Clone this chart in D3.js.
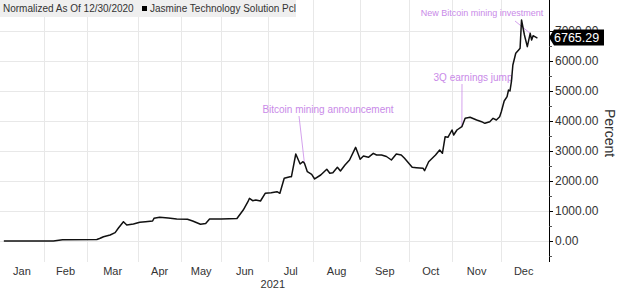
<!DOCTYPE html>
<html>
<head>
<meta charset="utf-8">
<script src="https://cdn.jsdelivr.net/npm/d3@7"></script>
<style>
body{margin:0;background:#fff;overflow:hidden}
text{font-family:"Liberation Sans",Arial,sans-serif}
</style>
</head>
<body>
<div id="main"></div>
<script>
// Jasmine Technology Solution Pcl, normalized to 12/30/2020 (percent)
var dates=['2021-01-04','2021-01-20','2021-02-07','2021-02-13','2021-03-07','2021-03-09','2021-03-11','2021-03-15','2021-03-18','2021-03-20',
  '2021-03-23','2021-03-25','2021-03-29','2021-04-02','2021-04-06','2021-04-11','2021-04-12','2021-04-16','2021-04-22','2021-04-28',
  '2021-05-06','2021-05-10','2021-05-16','2021-05-20','2021-05-23','2021-06-01','2021-06-11','2021-06-15','2021-06-18','2021-06-19',
  '2021-06-21','2021-06-23','2021-06-26','2021-06-29','2021-07-03','2021-07-07','2021-07-09','2021-07-12','2021-07-16','2021-07-17',
  '2021-07-20','2021-07-23','2021-07-25','2021-07-26','2021-07-28','2021-07-31','2021-08-02','2021-08-06','2021-08-10','2021-08-12',
  '2021-08-14','2021-08-17','2021-08-19','2021-08-22','2021-08-25','2021-08-29','2021-09-01','2021-09-03','2021-09-06','2021-09-09',
  '2021-09-11','2021-09-14','2021-09-17','2021-09-20','2021-09-23','2021-09-26','2021-09-28','2021-10-03','2021-10-06','2021-10-11',
  '2021-10-12','2021-10-15','2021-10-20','2021-10-23','2021-10-25','2021-10-27','2021-10-29','2021-11-01','2021-11-02','2021-11-04',
  '2021-11-07','2021-11-09','2021-11-12','2021-11-16','2021-11-19','2021-11-21','2021-11-24','2021-11-26','2021-11-28','2021-11-30',
  '2021-12-01','2021-12-03','2021-12-05','2021-12-06','2021-12-07','2021-12-08','2021-12-09','2021-12-11','2021-12-13','2021-12-14',
  '2021-12-15','2021-12-17','2021-12-19','2021-12-21','2021-12-22','2021-12-23','2021-12-26'];
var values=[0,0,0,40,50,90,143,200,277,433,
  643,533,567,623,643,667,757,790,767,733,
  723,667,557,583,733,733,750,1033,1310,1423,
  1343,1367,1333,1590,1610,1643,1590,2090,2143,2143,
  2900,2567,2643,2590,2310,2223,2067,2200,2390,2257,
  2277,2457,2333,2533,2700,3123,2723,2833,2790,2923,
  2867,2867,2817,2700,2900,2867,2757,2457,2443,2423,
  2343,2643,2867,3033,2923,3477,3457,3700,3533,3700,
  3810,4090,4123,4033,3977,3923,3977,4090,4033,4143,
  4310,4667,4810,5033,5000,5310,5867,6257,6367,6423,
  7367,6867,6477,6923,6700,6843,6765.29];

var months=['Jan','Feb','Mar','Apr','May','Jun','Jul','Aug','Sep','Oct','Nov','Dec'];
// the time axis runs on trading days: sessions per month
var tradingDays=[20,19,23,19,18,21,20,21,22,19,22,20];
var yTicks=[0,1000,2000,3000,4000,5000,6000,7000];
var yMinor=[-500,500,1500,2500,3500,4500,5500,6500];

var noteTexts=['Bitcoin mining announcement','3Q earnings jump','New Bitcoin mining investment'];
var noteDates=['2021-07-26','2021-11-07','2021-12-21'];
var noteValues=[2590,3810,6923];

var W=621,H=289;
var parse=d3.timeParse('%Y-%m-%d');
var data=dates.map(function(d,i){return {date:parse(d),value:values[i]};});

var monthStarts=d3.range(13).map(function(i){return new Date(2021,i,1);});
var cum=[0];
tradingDays.forEach(function(n,i){cum.push(cum[i]+n);});
var k=546.6/cum[cum.length-1];

var x=d3.scaleTime()
    .domain(monthStarts)
    .range(cum.map(function(c){return -0.5+c*k;}));
var y=d3.scaleLinear()
    .domain([0,7000])
    .range([241,31]);

var axisX=549;
var ink='#333';
var violet='#c98ae8';

var svg=d3.select('#main')
  .append('svg')
    .attr('width',W)
    .attr('height',H);

// grid
svg.append('g')
  .selectAll('line')
  .data(yTicks)
  .enter().append('line')
    .attr('x1',0)
    .attr('x2',axisX)
    .attr('y1',function(d){return y(d)+0.5;})
    .attr('y2',function(d){return y(d)+0.5;})
    .attr('stroke','#e8e8e8');

svg.append('g')
  .selectAll('line')
  .data(monthStarts.slice(1,12))
  .enter().append('line')
    .attr('x1',function(d){return Math.round(x(d))+0.5;})
    .attr('x2',function(d){return Math.round(x(d))+0.5;})
    .attr('y1',0)
    .attr('y2',y(-700))
    .attr('stroke','#e8e8e8');

// header band
svg.append('rect')
    .attr('x',0).attr('y',0)
    .attr('width',296).attr('height',17)
    .attr('fill','#efefef');
svg.append('text')
    .attr('x',3).attr('y',12)
    .attr('font-size',10)
    .attr('fill',ink)
    .text('Normalized As Of 12/30/2020');
svg.append('rect')
    .attr('x',142).attr('y',6)
    .attr('width',5).attr('height',5)
    .attr('fill','#000');
svg.append('text')
    .attr('x',150).attr('y',12)
    .attr('font-size',10)
    .attr('fill',ink)
    .text('Jasmine Technology Solution Pcl');

// month labels
svg.append('g')
  .selectAll('text')
  .data(months)
  .enter().append('text')
    .attr('x',function(d,i){return (x(monthStarts[i])+x(monthStarts[i+1]))/2;})
    .attr('y',275)
    .attr('text-anchor','middle')
    .attr('font-size',11)
    .attr('fill',ink)
    .text(function(d){return d;});
svg.append('text')
    .attr('x',(x.range()[0]+x.range()[12])/2)
    .attr('y',288)
    .attr('text-anchor','middle')
    .attr('font-size',11)
    .attr('fill',ink)
    .text('2021');

// annotations
var notes=noteTexts.map(function(t,i){
  return {text:t,px:x(parse(noteDates[i])),py:y(noteValues[i])};
});
var noteLayout=[{tx:328,ty:113,lx:299,ly:116,fs:10},{tx:473,ty:81,lx:462,ly:84,fs:10},{tx:482,ty:16,lx:515,ly:21,fs:9}];
notes.forEach(function(n,i){
  var L=noteLayout[i];
  svg.append('line')
      .attr('x1',L.lx).attr('y1',L.ly)
      .attr('x2',n.px).attr('y2',n.py)
      .attr('stroke',violet)
      .attr('stroke-width',0.8);
  svg.append('text')
      .attr('x',L.tx).attr('y',L.ty)
      .attr('text-anchor','middle')
      .attr('font-size',L.fs)
      .attr('fill',violet)
      .text(n.text);
});

// series
var line=d3.line()
    .x(function(d){return x(d.date);})
    .y(function(d){return y(d.value);});
svg.append('path')
    .datum(data)
    .attr('d',line)
    .attr('fill','none')
    .attr('stroke','#111')
    .attr('stroke-width',1.5)
    .attr('stroke-linejoin','round');

// right axis
var gy=svg.append('g')
    .attr('transform','translate('+axisX+',0)');
gy.append('line')
    .attr('x1',0.5).attr('x2',0.5)
    .attr('y1',0).attr('y2',y(-700))
    .attr('stroke','#000');
gy.append('g')
    .call(d3.axisRight(y).tickValues(yTicks).tickFormat(d3.format('.2f')).tickSize(4).tickPadding(2))
    .call(function(g){
      g.select('.domain').remove();
      g.selectAll('text').attr('font-size',12).attr('fill',ink).style('font-family','"Liberation Sans",Arial,sans-serif');
      g.selectAll('line').attr('stroke','#000');
    });
gy.append('g')
    .call(d3.axisRight(y).tickValues(yMinor).tickFormat('').tickSize(3))
    .call(function(g){
      g.select('.domain').remove();
      g.selectAll('line').attr('stroke','#555');
    });

svg.append('text')
    .attr('transform','translate(605,133) rotate(90)')
    .attr('text-anchor','middle')
    .attr('font-size',14)
    .attr('fill',ink)
    .text('Percent');

// last value tag (sits over the 7000 label, as in the source)
var last=data[data.length-1];
var cy=y(last.value)-0.5;
svg.append('path')
    .attr('d','M'+(axisX)+','+cy+'L'+(axisX+5)+','+(cy-8)+'H604V'+(cy+8)+'H'+(axisX+5)+'Z')
    .attr('fill','#000');
svg.append('text')
    .attr('x',axisX+5).attr('y',cy+4.5)
    .attr('font-size',12.5)
    .attr('fill','#fff')
    .text(d3.format('.2f')(last.value));
</script>
</body>
</html>
